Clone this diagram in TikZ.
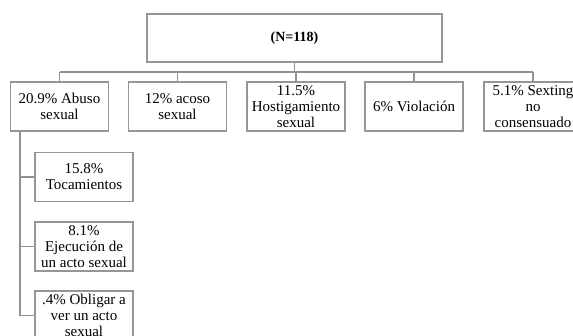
\documentclass[tikz,border=0pt]{standalone}
\usepackage{fontspec}
\setmainfont{Liberation Serif}
\definecolor{boxgray}{RGB}{150,150,150}
\definecolor{linegray}{RGB}{145,145,145}

\begin{document}
\begin{tikzpicture}[x=1pt,y=-1pt,
  caja/.style={draw=boxgray,line width=1.3pt,fill=white,minimum width=98pt,minimum height=49pt,inner sep=0pt,align=center,font=\fontsize{15}{16}\selectfont},
  rama/.style={draw=linegray,line width=1.6pt}]
\clip (0,0) rectangle (573,335);
% top box
\node[caja,minimum width=295pt,minimum height=48pt,font=\fontsize{14}{16}\selectfont\bfseries] (total) at (294.5,38) {(N=118)};
% first level
\node[caja] (abuso) at (59.5,106.5) {20.9\% Abuso\\sexual};
\node[caja] (acoso) at (177.5,106.5) {12\% acoso\\sexual};
\node[caja] (hostig) at (296,106.5) {11.5\%\\Hostigamiento\\sexual};
\node[caja] (violacion) at (414,106.5) {6\% Violación};
\node[caja] (sexting) at (533,106.5) {5.1\% Sexting\\no\\consensuado};
% second level
\node[caja] (tocam) at (84,177) {15.8\%\\Tocamientos};
\node[caja] (ejec) at (84,246.5) {8.1\%\\Ejecución de\\un acto sexual};
\node[caja] (obligar) at (84,315.5) {.4\% Obligar a\\ver un acto\\sexual};
% connectors
\coordinate (bus) at (294.5,72);
\coordinate (tronco) at (20,131);
\draw[rama] (total.south) -- (bus);
\draw[rama] (abuso.north |- bus) -- (sexting.north |- bus);
\foreach \n in {abuso,acoso,hostig,violacion,sexting}
  \draw[rama] (\n.north |- bus) -- (\n.north);
\foreach \n in {tocam,ejec,obligar}
  \draw[rama] (tronco) |- (\n.west);
\end{tikzpicture}
\end{document}
